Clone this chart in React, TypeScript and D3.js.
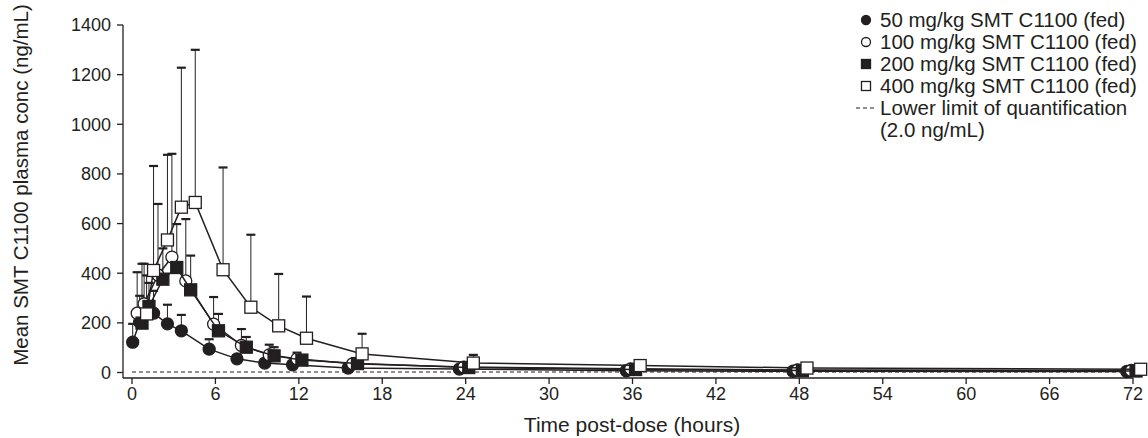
import React from 'react';
import * as d3 from 'd3';

// nominal sampling times (hours)
const hours = [0.5, 1, 2, 3, 4, 6, 8, 10, 12, 16, 24, 36, 48, 72];

// mean plasma conc (ng/mL) and SD
const mean50 = [122, 203, 239, 196, 168, 94, 55, 38, 31, 18, 14, 7, 5, 4];
const sd50 = [74, 106, 90, 77, 64, 40, 15, 10, 7, 4, 2, 2, 1, 1];
const mean100 = [239, 277, 393, 465, 369, 195, 109, 71, 55, 35, 22, 15, 10, 8];
const sd100 = [165, 161, 286, 416, 249, 109, 66, 41, 25, 10, 6, 5, 4, 2];
const mean200 = [199, 266, 376, 423, 333, 168, 102, 67, 50, 36, 20, 12, 8, 6];
const sd200 = [239, 95, 124, 175, 138, 68, 41, 35, 15, 6, 5, 4, 2, 2];
const mean400 = [236, 411, 534, 666, 685, 414, 263, 188, 138, 75, 38, 28, 18, 13];
const sd400 = [155, 421, 343, 562, 615, 412, 292, 209, 168, 81, 33, 7, 4, 2];

const seriesLabels = [
  '50 mg/kg SMT C1100 (fed)',
  '100 mg/kg SMT C1100 (fed)',
  '200 mg/kg SMT C1100 (fed)',
  '400 mg/kg SMT C1100 (fed)',
];
const lloqLabel = ['Lower limit of quantification', '(2.0 ng/mL)'];
const lloq = 2.0;

const xTicks = [0, 6, 12, 18, 24, 30, 36, 42, 48, 54, 60, 66, 72];
const yTicks = [0, 200, 400, 600, 800, 1000, 1200, 1400];

const ink = '#231f20';
const font = '"Liberation Sans", Arial, sans-serif';

const series = [
  { label: seriesLabels[0], mean: mean50, sd: sd50, shape: 'circle', filled: true, dodge: -0.45 },
  { label: seriesLabels[1], mean: mean100, sd: sd100, shape: 'circle', filled: false, dodge: -0.13 },
  { label: seriesLabels[2], mean: mean200, sd: sd200, shape: 'square', filled: true, dodge: 0.22 },
  { label: seriesLabels[3], mean: mean400, sd: sd400, shape: 'square', filled: false, dodge: 0.55 },
];

const Marker = ({ x, y, shape, filled, size }) => {
  const fill = filled ? ink : '#fff';
  if (shape === 'circle') {
    return <circle cx={x} cy={y} r={size / 2} fill={fill} stroke={ink} strokeWidth={1.3} />;
  }
  return (
    <rect x={x - size / 2} y={y - size / 2} width={size} height={size} fill={fill} stroke={ink} strokeWidth={1.3} />
  );
};

export default function App() {
  const width = 1148;
  const height = 438;
  const axisX = 123;
  const axisY = 378;

  const x = d3.scaleLinear().domain([0, 72]).range([132, 1133]);
  const y = d3.scaleLinear().domain([0, 1400]).range([372.5, 25]);

  const line = d3
    .line<[number, number]>()
    .x(d => d[0])
    .y(d => d[1]);

  return (
    <svg
      width={width}
      height={height}
      style={{ position: 'absolute', left: 0, top: 0, background: '#fff' }}
      fontFamily={font}
    >
      {/* LLOQ */}
      <line x1={x(0)} x2={x(72)} y1={y(lloq)} y2={y(lloq)} stroke={ink} strokeWidth={1} strokeDasharray="4,3" />

      {/* error bars (upper SD only) */}
      {series.map((s, si) =>
        hours.map((h, i) => {
          const cx = x(h + s.dodge);
          const top = y(s.mean[i] + s.sd[i]);
          return (
            <g key={`eb${si}-${i}`}>
              <line x1={cx} x2={cx} y1={y(s.mean[i])} y2={top} stroke={ink} strokeWidth={1} />
              <line x1={cx - 4.5} x2={cx + 4.5} y1={top} y2={top} stroke={ink} strokeWidth={2.2} />
            </g>
          );
        })
      )}

      {/* lines + markers */}
      {series.map((s, si) => (
        <g key={`s${si}`}>
          <path
            d={line(hours.map((h, i) => [x(h + s.dodge), y(s.mean[i])])) || ''}
            fill="none"
            stroke={ink}
            strokeWidth={1.5}
          />
          {hours.map((h, i) => (
            <Marker key={i} x={x(h + s.dodge)} y={y(s.mean[i])} shape={s.shape} filled={s.filled} size={12} />
          ))}
        </g>
      ))}

      {/* y axis */}
      <line x1={axisX} x2={axisX} y1={y(1400)} y2={axisY} stroke={ink} strokeWidth={1.3} />
      {yTicks.map(t => (
        <g key={`yt${t}`}>
          <line x1={axisX - 6} x2={axisX} y1={y(t)} y2={y(t)} stroke={ink} strokeWidth={1.3} />
          <text x={axisX - 12} y={y(t)} dy="0.35em" textAnchor="end" fontSize={18} fill={ink}>
            {t}
          </text>
        </g>
      ))}

      {/* x axis */}
      <line x1={axisX} x2={x(72)} y1={axisY} y2={axisY} stroke={ink} strokeWidth={1.3} />
      {xTicks.map(t => (
        <g key={`xt${t}`}>
          <line x1={x(t)} x2={x(t)} y1={axisY} y2={axisY + 6} stroke={ink} strokeWidth={1.3} />
          <text x={x(t)} y={axisY + 22} textAnchor="middle" fontSize={18} fill={ink}>
            {t}
          </text>
        </g>
      ))}

      <text x={632} y={432} textAnchor="middle" fontSize={21} fill={ink}>
        Time post-dose (hours)
      </text>
      <text transform="translate(28,185) rotate(-90)" textAnchor="middle" fontSize={20.5} fill={ink}>
        Mean SMT C1100 plasma conc (ng/mL)
      </text>

      {/* legend */}
      {series.map((s, si) => (
        <g key={`lg${si}`}>
          <Marker x={866} y={20 + si * 22} shape={s.shape} filled={s.filled} size={9} />
          <text x={880} y={20 + si * 22} dy="0.35em" fontSize={20.5} fill={ink}>
            {s.label}
          </text>
        </g>
      ))}
      <line x1={856} x2={876} y1={108} y2={108} stroke={ink} strokeWidth={1} strokeDasharray="4,3" />
      <text x={880} y={108} dy="0.35em" fontSize={20.5} fill={ink}>
        {lloqLabel[0]}
      </text>
      <text x={880} y={130} dy="0.35em" fontSize={20.5} fill={ink}>
        {lloqLabel[1]}
      </text>
    </svg>
  );
}
